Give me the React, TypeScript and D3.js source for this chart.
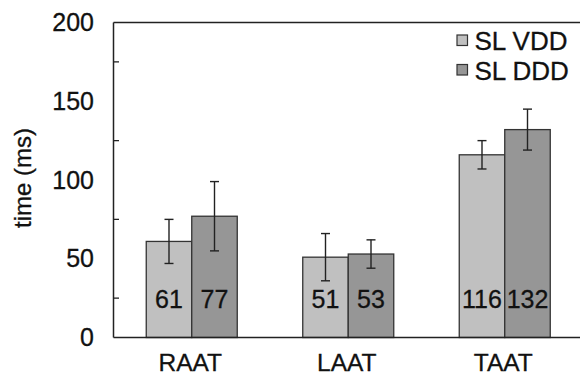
import React from "react";
import * as d3 from "d3";

const categories = ["RAAT", "LAAT", "TAAT"];
const seriesNames = ["SL VDD", "SL DDD"];
const vddValues = [61, 51, 116];
const dddValues = [77, 53, 132];
const vddErrors = [14, 15, 9];
const dddErrors = [22, 9, 13];
const yTickLabels = [0, 50, 100, 150, 200];
const yMinorTicks = [25, 75, 125, 175];

const W = 580;
const H = 375;
const left = 113.5;
const right = 583;
const top = 22.5;
const bottom = 337.5;
const colors = ["#c0c0c0", "#969696"];
const font = "'Liberation Sans', Arial, sans-serif";
const txt = { fill: "#111", stroke: "#111", strokeWidth: 0.3 };

export default function App() {
  const x = d3.scaleBand<string>().domain(categories).range([left, right]).paddingInner(0).paddingOuter(0);
  const y = d3.scaleLinear().domain([0, 200]).range([bottom, top]);
  const barW = 45.5;
  const series = [
    { values: vddValues, errors: vddErrors },
    { values: dddValues, errors: dddErrors },
  ];
  return (
    <svg width={W} height={H} style={{ position: "absolute", left: 0, top: 0, background: "#fff" }} fontFamily={font}>
      {series.map((s, si) =>
        categories.map((c, ci) => {
          const cx = (x(c) as number) + x.bandwidth() / 2;
          const bx = si === 0 ? cx - barW : cx;
          const v = s.values[ci];
          const e = s.errors[ci];
          return (
            <g key={`${si}-${ci}`}>
              <rect x={bx} y={y(v)} width={barW} height={y(0) - y(v)} fill={colors[si]} stroke="#333" strokeWidth={1.3} />
              <line x1={bx + barW / 2} x2={bx + barW / 2} y1={y(v + e)} y2={y(v - e)} stroke="#222" strokeWidth={1.4} />
              <line x1={bx + barW / 2 - 4.5} x2={bx + barW / 2 + 4.5} y1={y(v + e)} y2={y(v + e)} stroke="#222" strokeWidth={1.4} />
              <line x1={bx + barW / 2 - 4.5} x2={bx + barW / 2 + 4.5} y1={y(v - e)} y2={y(v - e)} stroke="#222" strokeWidth={1.4} />
              <text x={bx + barW / 2} y={307.5} textAnchor="middle" fontSize={25} {...txt}>
                {v}
              </text>
            </g>
          );
        })
      )}
      <line x1={left} x2={right} y1={top} y2={top} stroke="#222" strokeWidth={1.5} />
      <line x1={left} x2={right} y1={bottom} y2={bottom} stroke="#222" strokeWidth={1.5} />
      <line x1={left} x2={left} y1={top} y2={bottom} stroke="#222" strokeWidth={1.5} />
      {yMinorTicks.map((t) => (
        <line key={t} x1={left} x2={left + 5.5} y1={y(t)} y2={y(t)} stroke="#222" strokeWidth={1.3} />
      ))}
      {yTickLabels.map((t) => (
        <text key={t} x={94} y={y(t) + 8.5} textAnchor="end" fontSize={25} {...txt}>
          {t}
        </text>
      ))}
      {categories.map((c) => (
        <text key={c} x={(x(c) as number) + x.bandwidth() / 2 - 1.5} y={371} textAnchor="middle" fontSize={24.5} {...txt}>
          {c}
        </text>
      ))}
      <text transform={`translate(30.5,178) rotate(-90)`} textAnchor="middle" fontSize={24} {...txt}>
        time (ms)
      </text>
      {seriesNames.map((n, i) => (
        <g key={n} transform={`translate(0,${i * 29.5})`}>
          <rect x={457} y={35} width={10.5} height={10.5} fill={colors[i]} stroke="#333" strokeWidth={1.2} />
          <text x={474.5} y={50} fontSize={26} {...txt}>
            {n}
          </text>
        </g>
      ))}
    </svg>
  );
}
